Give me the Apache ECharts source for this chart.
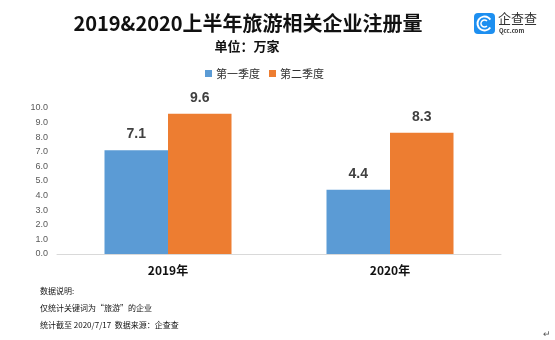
<!DOCTYPE html>
<html><head><meta charset="utf-8">
<script src="https://cdn.jsdelivr.net/npm/echarts@6/dist/echarts.min.js"></script>
<style>html,body{margin:0;padding:0;background:#fff}#c{width:555px;height:340px}</style>
</head><body><div id="c"></div>
<script>
const categories = ['2019年', '2020年'];
const q1 = [7.1, 4.4];
const q2 = [9.6, 8.3];
const seriesNames = ['第一季度', '第二季度'];
const notes = ['数据说明:', '仅统计关键词为“旅游”的企业', '统计截至 2020/7/17  数据来源：企查查'];

const F = '"Noto Sans CJK SC", "Microsoft YaHei", sans-serif';
const chart = echarts.init(document.getElementById('c'), null, {renderer: 'canvas'});
chart.setOption({
  backgroundColor: '#fff',
  animation: false,
  title: [
    {text: '2019&2020上半年旅游相关企业注册量', left: 243, top: 8, textAlign: 'center',
     textStyle: {fontFamily: F, fontSize: 20, fontWeight: 'bold', color: '#111'}},
    {text: '单位：万家', left: 242, top: 35, textAlign: 'center',
     textStyle: {fontFamily: F, fontSize: 13, fontWeight: 'bold', color: '#111'}}
  ],
  legend: {
    data: seriesNames, top: 63, left: 200, itemWidth: 7, itemHeight: 7, itemGap: 9,
    icon: 'rect',
    textStyle: {fontFamily: F, fontSize: 11, color: '#333', padding: [0, 0, 0, -1]}
  },
  grid: {left: 57, right: 54, top: 108, bottom: 86},
  xAxis: {
    type: 'category', data: categories,
    axisLine: {lineStyle: {color: '#d9d9d9', width: 1}},
    axisTick: {show: false},
    axisLabel: {fontFamily: F, fontSize: 12, fontWeight: 'bold', color: '#111', margin: 10}
  },
  yAxis: {
    type: 'value', min: 0, max: 10, interval: 1,
    axisLine: {show: false}, axisTick: {show: false}, splitLine: {show: false},
    axisLabel: {fontFamily: 'Liberation Sans, Arial, sans-serif', fontSize: 9, color: '#595959', margin: 9,
      formatter: v => v.toFixed(1)}
  },
  series: [
    {name: seriesNames[0], type: 'bar', data: q1, barWidth: 63.5, barGap: '0%',
     itemStyle: {color: '#5B9BD5'},
     label: {show: true, position: 'top', distance: 9, fontFamily: 'Liberation Sans, Arial, sans-serif', fontSize: 14, fontWeight: 'bold', color: '#404040', formatter: p => p.value.toFixed(1)}},
    {name: seriesNames[1], type: 'bar', data: q2, barWidth: 63.5, barGap: '0%',
     itemStyle: {color: '#ED7D31'},
     label: {show: true, position: 'top', distance: 9, fontFamily: 'Liberation Sans, Arial, sans-serif', fontSize: 14, fontWeight: 'bold', color: '#404040', formatter: p => p.value.toFixed(1)}}
  ],
  graphic: [
    {type: 'text', left: 40, top: 287, style: {text: notes[0], font: '8px ' + F, fill: '#111'}},
    {type: 'text', left: 40, top: 304, style: {text: notes[1], font: '8px ' + F, fill: '#111'}},
    {type: 'text', left: 40, top: 321, style: {text: notes[2], font: '8px ' + F, fill: '#111'}},
    {type: 'text', left: 543, top: 329, style: {text: '↵', font: '9px ' + F, fill: '#555'}},
    {type: 'rect', shape: {x: 474, y: 13, width: 21, height: 21, r: 4}, style: {fill: '#1d8ff0'}},
    {type: 'arc', shape: {cx: 484.5, cy: 23.5, r: 7, startAngle: 0.6, endAngle: 5.7}, style: {stroke: '#fff', lineWidth: 2, fill: null}},
    {type: 'arc', shape: {cx: 484.5, cy: 23.5, r: 3.5, startAngle: 0.8, endAngle: 5.5}, style: {stroke: '#fff', lineWidth: 1.6, fill: null}},
    {type: 'text', left: 498, top: 12, style: {text: '企查查', font: '13px ' + F, fill: '#333'}},
    {type: 'text', left: 499, top: 28, style: {text: 'Qcc.com', font: 'bold 6px ' + F, fill: '#333'}}
  ]
});
</script></body></html>
